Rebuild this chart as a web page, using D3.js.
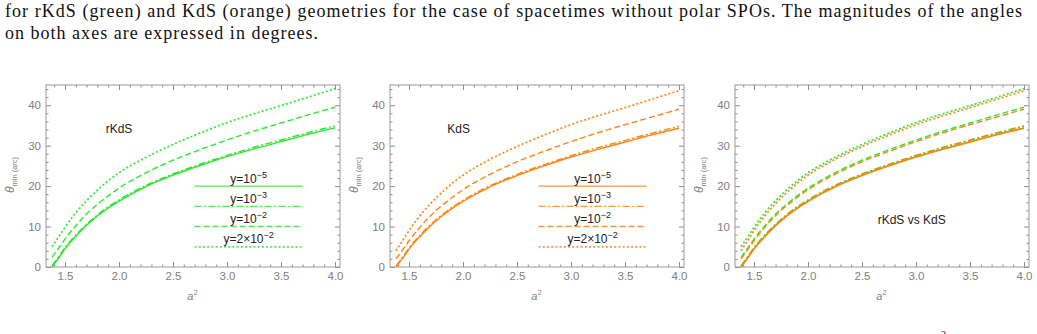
<!DOCTYPE html>
<html>
<head>
<meta charset="utf-8">
<script src="https://cdn.jsdelivr.net/npm/d3@7"></script>
<style>
  body { margin: 0; background: #fff; }
  svg { display: block; }
  .tick text { font-family: "Liberation Sans", Arial, sans-serif; font-size: 11.5px; fill: #808080; }
  .lab { font-family: "Liberation Sans", Arial, sans-serif; font-size: 12px; fill: #222; }
</style>
</head>
<body>
<svg width="1037" height="334"></svg>
<script>
// a^2 sample points
var a2 = [1.38, 1.45, 1.5, 1.6, 1.7, 1.8, 1.9, 2.0, 2.25, 2.5, 2.75, 3.0, 3.25, 3.5, 3.75, 4.0];

// rKdS (green)
var green_y5  = [0, 2.6, 4.5, 7.6, 10.3, 12.6, 14.6, 16.3, 19.9, 22.7, 25.1, 27.3, 29.2, 31.0, 32.8, 34.4];
var green_y3  = [0.3, 2.9, 4.8, 7.9, 10.6, 12.9, 14.9, 16.6, 20.2, 23.0, 25.4, 27.6, 29.6, 31.4, 33.2, 34.9];
var green_y2  = [2.4, 5.0, 6.9, 10.2, 13.1, 15.5, 17.6, 19.5, 23.3, 26.4, 29.0, 31.4, 33.6, 35.6, 37.6, 39.5];
var green_y22 = [5.0, 7.8, 9.8, 13.4, 16.4, 19.0, 21.3, 23.3, 27.1, 30.3, 33.1, 35.7, 37.9, 39.9, 42.0, 44.1];

// KdS (orange)
var orange_y5  = [0, 2.5, 4.4, 7.5, 10.2, 12.5, 14.5, 16.2, 19.8, 22.6, 25.0, 27.2, 29.1, 30.9, 32.7, 34.3];
var orange_y3  = [0.2, 2.8, 4.7, 7.8, 10.5, 12.8, 14.8, 16.5, 20.1, 22.9, 25.3, 27.5, 29.5, 31.3, 33.1, 34.8];
var orange_y2  = [2.0, 4.6, 6.5, 9.8, 12.7, 15.1, 17.2, 19.1, 22.9, 26.0, 28.6, 31.0, 33.2, 35.2, 37.1, 39.0];
var orange_y22 = [4.0, 6.9, 9.0, 12.6, 15.7, 18.3, 20.7, 22.7, 26.6, 29.8, 32.6, 35.2, 37.4, 39.4, 41.5, 43.6];

var legendLabels = [["y=10", "\u22125"], ["y=10", "\u22123"], ["y=10", "\u22122"], ["y=2\u00d710", "\u22122"]];
var legendLevels = [20, 15, 10, 5];
var xTicks = [1.5, 2.0, 2.5, 3.0, 3.5, 4.0];
var yTicks = [0, 10, 20, 30, 40];

var GREEN = "#2fe62f", ORANGE = "#ff8410";
var styles = ["none", "7,2.5,2,2.5", "6,3", "2,2.2"];
var widths = [1.4, 1.4, 1.4, 1.7];

var svg = d3.select("svg");

// caption text (cut from a paper page)
var cap = svg.append("g").style("font-family", "'Liberation Serif', 'DejaVu Serif', serif").style("font-size", "18px").attr("fill", "#111");
cap.append("text").attr("x", 5).attr("y", 17)
  .attr("textLength", 1017).attr("lengthAdjust", "spacing")
  .text("for rKdS (green) and KdS (orange) geometries for the case of spacetimes without polar SPOs.  The magnitudes of the angles");
cap.append("text").attr("x", 5).attr("y", 39)
  .attr("textLength", 313).attr("lengthAdjust", "spacing")
  .text("on both axes are expressed in degrees.");
cap.append("text").attr("x", 941).attr("y", 338).style("font-size", "10px").text("2");

var panels = [
  {left: 46, sets: [[green_y5, green_y3, green_y2, green_y22]], colors: [GREEN], title: "rKdS", tx: 2.0, ty: 34, legend: GREEN},
  {left: 390, sets: [[orange_y5, orange_y3, orange_y2, orange_y22]], colors: [ORANGE], title: "KdS", tx: 1.96, ty: 34, legend: ORANGE},
  {left: 735, sets: [[green_y5, green_y3, green_y2, green_y22], [orange_y5, orange_y3, orange_y2, orange_y22]], colors: [GREEN, ORANGE], title: "rKdS vs KdS", tx: 2.96, ty: 11.5, legend: null}
];

var W = 294, plotTop = 85, plotBottom = 267;

panels.forEach(function (p) {
  var x = d3.scaleLinear().domain([1.324, 4.046]).range([p.left, p.left + W]);
  var y = d3.scaleLinear().domain([0, 45]).range([plotBottom, plotTop]);
  var g = svg.append("g");

  // minor ticks
  var xMinor = d3.range(14, 41).map(function (d) { return d / 10; }).filter(function (d) { return xTicks.indexOf(d) < 0; });
  var yMinor = d3.range(0, 46, 2).filter(function (d) { return d % 10 != 0; });

  function axisStyle(sel) {
    sel.select(".domain").remove();
    sel.selectAll("line").attr("stroke", "#8c8c8c");
  }
  g.append("g").attr("transform", "translate(0," + plotBottom + ")")
    .call(d3.axisBottom(x).tickValues(xTicks).tickFormat(d3.format(".1f")).tickSizeInner(-5).tickPadding(5)).call(axisStyle);
  g.append("g").attr("transform", "translate(0," + plotBottom + ")")
    .call(d3.axisBottom(x).tickValues(xMinor).tickFormat("").tickSizeInner(-2.5)).call(axisStyle);
  g.append("g").attr("transform", "translate(0," + plotTop + ")")
    .call(d3.axisTop(x).tickValues(xTicks).tickFormat("").tickSizeInner(-5)).call(axisStyle);
  g.append("g").attr("transform", "translate(0," + plotTop + ")")
    .call(d3.axisTop(x).tickValues(xMinor).tickFormat("").tickSizeInner(-2.5)).call(axisStyle);
  g.append("g").attr("transform", "translate(" + p.left + ",0)")
    .call(d3.axisLeft(y).tickValues(yTicks).tickSizeInner(-5).tickPadding(5)).call(axisStyle);
  g.append("g").attr("transform", "translate(" + p.left + ",0)")
    .call(d3.axisLeft(y).tickValues(yMinor).tickFormat("").tickSizeInner(-2.5)).call(axisStyle);
  g.append("g").attr("transform", "translate(" + (p.left + W) + ",0)")
    .call(d3.axisRight(y).tickValues(yTicks).tickFormat("").tickSizeInner(-5)).call(axisStyle);
  g.append("g").attr("transform", "translate(" + (p.left + W) + ",0)")
    .call(d3.axisRight(y).tickValues(yMinor).tickFormat("").tickSizeInner(-2.5)).call(axisStyle);

  g.append("rect").attr("x", p.left).attr("y", plotTop).attr("width", W).attr("height", plotBottom - plotTop)
    .attr("fill", "none").attr("stroke", "#9a9a9a").attr("stroke-width", 1);

  // curves
  var line = d3.line().x(function (d) { return x(d[0]); }).y(function (d) { return y(d[1]); }).curve(d3.curveMonotoneX);
  p.sets.forEach(function (set, si) {
    set.forEach(function (vals, k) {
      g.append("path")
        .datum(a2.map(function (a, i) { return [a, vals[i]]; }))
        .attr("d", line)
        .attr("fill", "none")
        .attr("stroke", p.colors[si])
        .attr("stroke-width", widths[k])
        .attr("stroke-dasharray", styles[k]);
    });
  });

  // legend inside plot
  if (p.legend) {
    legendLevels.forEach(function (lv, k) {
      g.append("line")
        .attr("x1", x(2.7)).attr("x2", x(3.7))
        .attr("y1", y(lv)).attr("y2", y(lv))
        .attr("stroke", p.legend).attr("stroke-opacity", 0.85)
        .attr("stroke-width", widths[k]).attr("stroke-dasharray", styles[k]);
      var t = g.append("text").attr("class", "lab")
        .attr("x", x(3.2)).attr("y", y(lv) - 3.5).attr("text-anchor", "middle");
      t.append("tspan").text(legendLabels[k][0]);
      t.append("tspan").attr("dy", -5).style("font-size", "9px").text(legendLabels[k][1]);
    });
  }

  g.append("text").attr("class", "lab")
    .attr("x", x(p.tx)).attr("y", y(p.ty) + 4).attr("text-anchor", "middle")
    .text(p.title);

  // axis labels
  var yl = g.append("text")
    .attr("transform", "translate(" + (p.left - 32) + "," + 175 + ") rotate(-90)")
    .attr("text-anchor", "middle")
    .style("font-family", "'Liberation Sans', Arial, sans-serif").attr("fill", "#808080");
  yl.append("tspan").style("font-style", "italic").style("font-size", "12px").text("\u03b8");
  yl.append("tspan").attr("dy", 3).style("font-size", "7.5px").text("min (arc)");

  var xl = g.append("text")
    .attr("x", x(2.68)).attr("y", 300)
    .attr("text-anchor", "middle")
    .style("font-family", "'Liberation Sans', Arial, sans-serif").attr("fill", "#808080");
  xl.append("tspan").style("font-style", "italic").style("font-size", "11px").text("a");
  xl.append("tspan").attr("dy", -5).style("font-size", "7.5px").text("2");
});
</script>
</body>
</html>
